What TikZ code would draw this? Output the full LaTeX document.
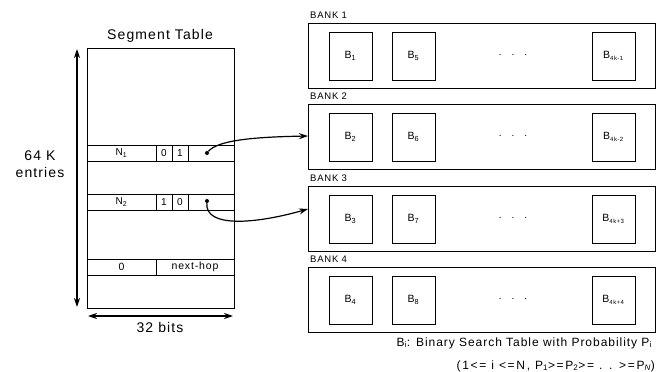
\documentclass[tikz,border=0pt]{standalone}
\usepackage{fontspec}
\setmainfont{Liberation Sans}[LetterSpace=8]
\usetikzlibrary{arrows.meta}
\begin{document}
\begin{tikzpicture}[x=1pt,y=-1pt,
  box/.style={draw, line width=0.8pt, inner sep=0pt, outer sep=0pt, anchor=north west},
  cell/.style={draw, line width=0.6pt, inner sep=0pt, outer sep=0pt, anchor=north west, minimum height=16.5pt, font=\fontsize{10}{11}\selectfont},
  bank/.style={box, minimum width=347pt, minimum height=65pt},
  bst/.style={box, minimum width=43pt, minimum height=48pt, font=\fontsize{10.5}{12}\selectfont},
  lbl/.style={inner sep=0pt, font=\fontsize{9.5}{11}\selectfont, anchor=west},
  arr/.style={line width=1.2pt, -{Stealth[length=9pt,width=6pt]}},
  dim/.style={line width=1.2pt, {Stealth[length=9pt,width=6pt]}-{Stealth[length=9pt,width=6pt]}}
]
\useasboundingbox (0,0) rectangle (665,372);
% segment table
\node[box, minimum width=147pt, minimum height=260pt] (seg) at (87,48) {};
\node[inner sep=0pt, font=\fontsize{14}{16}\selectfont] (segt) at (160,36) {Segment Table};
% row N1
\node[cell, minimum width=69pt] (n1) at (87,145) {N\textsubscript{1}};
\node[cell, minimum width=16pt] (n1a) at (156,145) {0};
\node[cell, minimum width=16pt] (n1b) at (172,145) {1};
\node[cell, minimum width=46pt] (n1p) at (188,145) {};
% row N2
\node[cell, minimum width=69pt] (n2) at (87,194) {N\textsubscript{2}};
\node[cell, minimum width=16pt] (n2a) at (156,194) {1};
\node[cell, minimum width=16pt] (n2b) at (172,194) {0};
\node[cell, minimum width=46pt] (n2p) at (188,194) {};
% row next-hop
\node[cell, minimum width=69pt, font=\fontsize{10.5}{12}\selectfont] (z) at (87,259) {0};
\node[cell, minimum width=78pt, font=\fontsize{10.5}{12}\selectfont] (nh) at (156,259) {next-hop};
% dimensions
\coordinate (vt) at (77,49);
\coordinate (vb) at (77,307);
\draw[dim] (vt) -- (vb);
\coordinate (hl) at (88,316);
\coordinate (hr) at (233,316);
\draw[dim] (hl) -- (hr);
\node[inner sep=0pt, font=\fontsize{14}{16}\selectfont] (bits) at (160,327) {32 bits};
\node[inner sep=0pt, font=\fontsize{14}{16}\selectfont, align=center] (ent) at (40,164) {64 K\\[1pt]entries};
% banks
\foreach \i/\y/\a/\b/\c in {1/23/1/5/{4k-1}, 2/104/2/6/{4k-2}, 3/186/3/7/{4k+3}, 4/267/4/8/{4k+4}} {
  \node[bank] (bank\i) at (308,\y) {};
  \node[lbl] (bl\i) at (310,\y-8) {BANK \i};
  \node[bst] (b\i a) at (329,\y+9) {B\textsubscript{\a}};
  \node[bst] (b\i b) at (392,\y+9) {B\textsubscript{\b}};
  \node[bst] (b\i c) at (592,\y+9) {B\textsubscript{\fontsize{6}{7}\selectfont\c}};
  \node[inner sep=0pt, font=\fontsize{10}{11}\selectfont] (dots\i) at (513,\y+32) {.\hspace{10pt}.\hspace{10pt}.};
}
% pointers
\node[circle, fill, inner sep=0pt, minimum size=4pt] (d1) at (207,153) {};
\node[circle, fill, inner sep=0pt, minimum size=4pt] (d2) at (207,201) {};
\draw[arr] (d1) .. controls (218,140) and (255,137) .. (bank2.west |- 0,136);
\coordinate (t2) at (308,209);
\draw[arr] (d2) .. controls (205,228) and (255,224) .. (t2);
% caption
\node[inner sep=0pt, anchor=east, font=\fontsize{12}{14}\selectfont] (cap1) at (652,343) {B\textsubscript{i}: Binary Search Table with Probability P\textsubscript{i}};
\node[inner sep=0pt, anchor=east, font=\fontsize{12}{14}\selectfont\addfontfeatures{LetterSpace=14}] (cap2) at (655,366) {(1<= i <=N, P\textsubscript{1}>=P\textsubscript{2}>= . . >=P\textsubscript{\itshape N})};
\end{tikzpicture}
\end{document}
